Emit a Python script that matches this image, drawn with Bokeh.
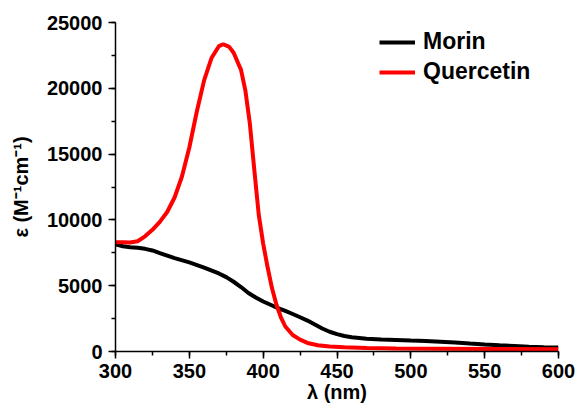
from bokeh.plotting import figure
from bokeh.models import SingleIntervalTicker, NumeralTickFormatter, Legend, LegendItem, Range1d
from bokeh.embed import file_html
from bokeh.resources import INLINE

# Data
morin_wl = [300, 305, 310, 315, 320, 325, 330, 340, 350, 360, 370, 375, 380, 385, 390,
            395, 400, 405, 410, 415, 420, 425, 430, 435, 440, 445, 450, 455, 460, 470,
            480, 490, 500, 510, 520, 530, 540, 550, 560, 570, 580, 590, 600]
morin_eps = [8150, 8000, 7930, 7880, 7800, 7680, 7480, 7100, 6770, 6380, 5930, 5650, 5300,
             4900, 4450, 4100, 3800, 3550, 3300, 3080, 2850, 2600, 2350, 2050, 1750, 1500,
             1320, 1180, 1080, 970, 910, 870, 830, 800, 740, 680, 600, 530, 470, 420, 370,
             330, 300]

quer_wl = [300, 305, 310, 315, 320, 325, 330, 335, 340, 345, 350, 355, 360, 365, 370, 373,
           377, 380, 385, 388, 391, 394, 397, 400, 403, 406, 409, 412, 415, 420, 425, 430,
           437, 445, 455, 470, 490, 520, 560, 600]
quer_eps = [8300, 8300, 8280, 8380, 8750, 9250, 9850, 10600, 11700, 13300, 15500, 18200,
            20600, 22300, 23200, 23350, 23150, 22700, 21400, 19800, 17300, 13800, 10400,
            8200, 6400, 4800, 3550, 2600, 1900, 1250, 900, 650, 480, 380, 320, 270, 230,
            210, 190, 180]

series_names = ["Morin", "Quercetin"]
series_colors = ["#000000", "#ff0000"]

FONT = "Liberation Sans"

p = figure(width=577, height=405, output_backend="svg", toolbar_location=None,
           x_range=Range1d(300, 600), y_range=Range1d(0, 25000),
           min_border_left=115, min_border_right=19, min_border_top=22, min_border_bottom=50)

p.outline_line_color = None
p.xgrid.visible = False
p.ygrid.visible = False
p.background_fill_color = "white"
p.border_fill_color = "white"

r1 = p.line(morin_wl, morin_eps, line_color=series_colors[0], line_width=4)
r2 = p.line(quer_wl, quer_eps, line_color=series_colors[1], line_width=4)

for ax in (p.xaxis[0], p.yaxis[0]):
    ax.axis_line_color = "black"
    ax.axis_line_width = 1.5
    ax.major_tick_line_color = "black"
    ax.major_tick_line_width = 1.5
    ax.minor_tick_line_color = "black"
    ax.minor_tick_line_width = 1.5
    ax.major_tick_in = 0
    ax.major_tick_out = 7
    ax.minor_tick_in = 0
    ax.minor_tick_out = 4
    ax.major_label_text_font = FONT
    ax.major_label_text_font_style = "bold"
    ax.major_label_text_font_size = "20px"
    ax.major_label_text_color = "black"
    ax.major_label_standoff = 6
    ax.axis_label_text_font = FONT
    ax.axis_label_text_font_style = "bold"
    ax.axis_label_text_font_size = "20px"
    ax.axis_label_text_color = "black"

p.xaxis.ticker = SingleIntervalTicker(interval=50, num_minor_ticks=2)
p.yaxis.ticker = SingleIntervalTicker(interval=5000, num_minor_ticks=2)
p.xaxis.formatter = NumeralTickFormatter(format="0")
p.yaxis.formatter = NumeralTickFormatter(format="0")
p.xaxis.axis_label = "λ (nm)"
p.yaxis.axis_label = "ε (M⁻¹cm⁻¹)"
p.xaxis.major_label_standoff = 5
p.xaxis.axis_label_standoff = 0
p.yaxis.axis_label_standoff = 12

legend = Legend(items=[LegendItem(label=series_names[0], renderers=[r1]),
                       LegendItem(label=series_names[1], renderers=[r2])],
                location=(264, 266))
legend.border_line_color = None
legend.background_fill_alpha = 0
legend.padding = 0
legend.margin = 0
legend.spacing = 3
legend.glyph_width = 36
legend.glyph_height = 26
legend.label_height = 26
legend.label_standoff = 8
legend.label_text_font = FONT
legend.label_text_font_style = "bold"
legend.label_text_font_size = "23px"
legend.label_text_color = "black"
p.add_layout(legend)

open("out.html", "w").write(file_html(p, INLINE))
